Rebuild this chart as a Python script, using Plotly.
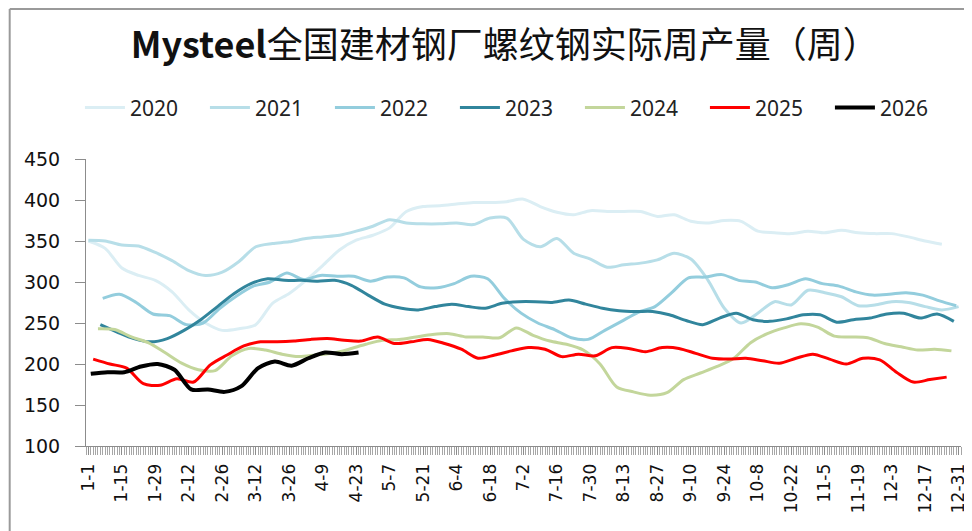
import plotly.graph_objects as go

# 螺纹钢实际周产量（万吨），每周一个数据点
years = ["2020", "2021", "2022", "2023", "2024", "2025", "2026"]

# first report day of each year (days after 1-1)
start_days = [0, 0, 6, 5, 4, 2, 1]

y2020 = [350, 341, 317, 308, 302, 288, 266, 250, 241, 243,
         248, 274, 286, 302, 320, 339, 351, 357, 366, 386,
         392, 393, 395, 397, 397, 398, 401, 392, 385, 382,
         387, 386, 386, 386, 380, 382, 374, 372, 375, 374,
         362, 360, 359, 362, 360, 363, 360, 359, 359, 355,
         350, 346]
y2021 = [351, 350, 345, 344, 336, 326, 314, 308, 312, 325,
         343, 347, 349, 353, 355, 357, 362, 368, 376, 372,
         371, 371, 372, 370, 378, 378, 352, 343, 353, 335,
         328, 318, 321, 323, 327, 335, 328, 303, 268, 250,
         262, 276, 272, 290, 287, 282, 271, 272, 276, 275,
         270, 266, 270]
y2022 = [280, 285, 275, 261, 259, 248, 250, 268, 283, 295,
         300, 311, 303, 308, 307, 307, 301, 306, 305, 294,
         293, 298, 307, 304, 280, 262, 250, 242, 232, 230,
         241, 252, 263, 270, 287, 305, 306, 309, 302, 300,
         293, 297, 304, 298, 295, 288, 284, 285, 287, 284,
         277, 271]
y2023 = [248, 239, 231, 227, 231, 241, 254, 270, 286, 298,
         304, 302, 302, 301, 302, 296, 284, 273, 268, 266,
         270, 273, 270, 268, 274, 276, 276, 275, 278, 273,
         268, 265, 264, 264, 260, 253, 248, 256, 262, 254,
         252, 255, 260, 260, 251, 254, 256, 261, 262, 256,
         261, 252]
y2024 = [243, 242, 233, 226, 214, 201, 193, 192, 210, 219,
         217, 212, 209, 211, 213, 218, 224, 229, 230, 233,
         236, 237, 233, 233, 232, 244, 235, 228, 224, 217,
         200, 172, 166, 162, 165, 181, 189, 197, 207, 226,
         237, 244, 249, 245, 234, 233, 232, 225, 221, 217,
         218, 216]
y2025 = [206, 200, 195, 176, 174, 182, 178, 199, 211, 222,
         227, 227, 228, 230, 231, 229, 228, 233, 225, 227,
         230, 225, 218, 207, 211, 216, 220, 218, 209, 212,
         210, 220, 219, 215, 220, 219, 213, 207, 206, 207,
         204, 201, 207, 212, 206, 200, 207, 205, 190, 178,
         181, 184]
y2026 = [188, 190, 190, 197, 200, 193, 169, 169, 166, 173,
         195, 203, 198, 207, 214, 212, 214]

tick_days = list(range(0, 365, 14))
tick_labels = ["1-1", "1-15", "1-29", "2-12", "2-26", "3-12", "3-26", "4-9",
               "4-23", "5-7", "5-21", "6-4", "6-18", "7-2", "7-16", "7-30",
               "8-13", "8-27", "9-10", "9-24", "10-8", "10-22", "11-5",
               "11-19", "12-3", "12-17", "12-31"]

series = [y2020, y2021, y2022, y2023, y2024, y2025, y2026]
colors = ["#DBEEF4", "#B7DEE8", "#93CDDD", "#31859C", "#C3D69B", "#FF0000", "#000000"]
widths = [3, 3, 3, 3, 3, 3, 4]

fig = go.Figure()
for name, vals, s, c, w in zip(years, series, start_days, colors, widths):
    fig.add_trace(go.Scatter(
        x=[s + 7 * i for i in range(len(vals))],
        y=vals,
        name=name,
        mode="lines",
        line=dict(color=c, width=w, shape="spline", smoothing=0.8),
    ))

axis_grey = "#8C8C8C"

# the page body adds an 8px offset, so the figure is laid out 8px up/left
ml, mt, pw, ph = 77.6, 151, 878.4, 287

fig.update_layout(
    width=972, height=531,
    paper_bgcolor="white", plot_bgcolor="white",
    margin=dict(l=ml, r=972 - ml - pw, t=mt, b=531 - mt - ph),
    title=dict(
        text="<b>Mysteel</b>全国建材钢厂螺纹钢实际周产量（周）",
        font=dict(family="Noto Sans CJK SC", size=36, color="#111111"),
        x=0.511, xref="container", xanchor="center",
        y=0.930, yref="container", yanchor="middle",
    ),
    legend=dict(
        orientation="h",
        x=0.074, xref="container", xanchor="left",
        y=0.812, yref="container", yanchor="middle",
        entrywidth=70, entrywidthmode="pixels",
        font=dict(family="Noto Sans", size=21, color="#222222"),
        itemwidth=40,
        bgcolor="rgba(0,0,0,0)",
    ),
    showlegend=True,
)

fig.update_xaxes(
    range=[-1, 365],
    tickmode="array", tickvals=tick_days, ticktext=tick_labels,
    tickangle=-90,
    tickfont=dict(family="DejaVu Sans", size=17, color="#111111"),
    ticklabelstandoff=2,
    showgrid=False, zeroline=False,
    showline=True, linecolor=axis_grey, linewidth=1,
    ticks="outside", ticklen=8, tickcolor=axis_grey,
    minor=dict(ticks="outside", tickmode="linear", tick0=0, dtick=1,
               ticklen=8, tickcolor="#A6A6A6", tickwidth=1, showgrid=False),
)
fig.update_yaxes(
    range=[100, 450], dtick=50, tick0=100,
    tickfont=dict(family="DejaVu Sans", size=19, color="#111111"),
    ticklabelstandoff=11,
    showgrid=False, zeroline=False,
    showline=True, linecolor=axis_grey, linewidth=1,
    ticks="outside", ticklen=10, tickcolor=axis_grey,
)

# chart frame edges visible at the top and left of the crop
edge_x = (1 - ml) / pw
edge_y = (mt + ph - 1) / ph
fig.add_shape(type="line", xref="paper", yref="paper",
              x0=edge_x, x1=1.02, y0=edge_y, y1=edge_y,
              line=dict(color="#9A9A9A", width=2))
fig.add_shape(type="line", xref="paper", yref="paper",
              x0=edge_x, x1=edge_x, y0=-0.35, y1=edge_y,
              line=dict(color="#9A9A9A", width=2))

fig.write_html("out.html")
